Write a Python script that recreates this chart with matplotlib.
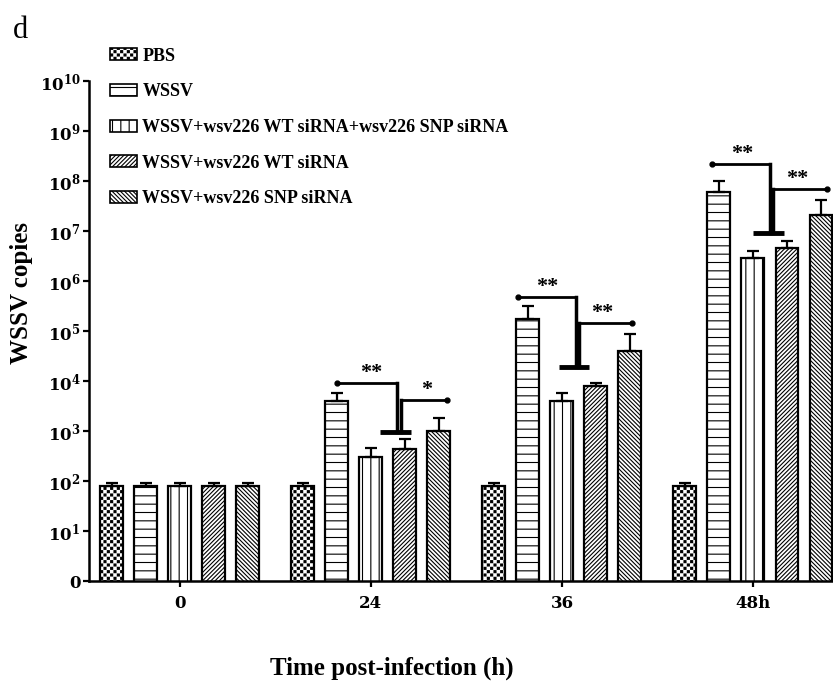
import numpy as np
import matplotlib
matplotlib.use("Agg")
import matplotlib.pyplot as plt
import matplotlib.hatch as mhatch
from matplotlib.path import Path
from matplotlib.patches import Patch


class CheckerHatch(mhatch.HatchPatternBase):
    # filled checkerboard, takes the place of the small-circle hatch 'o'
    def __init__(self, hatch, density):
        self.n = 2 * ((hatch.count('o') * density) // 2)
        self.num_vertices = (self.n * self.n // 2) * 5

    def set_vertices_and_codes(self, vertices, codes):
        s = 1.0 / self.n
        m = 0.2 * s
        k = 0
        for i in range(self.n):
            for j in range(self.n):
                if (i + j) % 2:
                    continue
                x0, y0 = i * s + m, j * s + m
                x1, y1 = x0 + s - 2 * m, y0 + s - 2 * m
                vertices[k:k + 5] = [(x0, y0), (x1, y0), (x1, y1), (x0, y1), (x0, y0)]
                codes[k:k + 5] = [Path.MOVETO, Path.LINETO, Path.LINETO,
                                  Path.LINETO, Path.CLOSEPOLY]
                k += 5


mhatch._hatch_types[mhatch._hatch_types.index(mhatch.SmallCircles)] = CheckerHatch

plt.rcParams['font.family'] = ['Liberation Serif', 'DejaVu Serif']
plt.rcParams['font.weight'] = 'bold'
plt.rcParams['mathtext.fontset'] = 'custom'
plt.rcParams['mathtext.rm'] = 'DejaVu Serif:bold'
plt.rcParams['mathtext.it'] = 'DejaVu Serif:bold'
plt.rcParams['mathtext.bf'] = 'DejaVu Serif:bold'
plt.rcParams['hatch.linewidth'] = 0.8

# data
times = ['0', '24', '36', '48h']
groups = ['PBS', 'WSSV', 'WSSV+wsv226 WT siRNA+wsv226 SNP siRNA',
          'WSSV+wsv226 WT siRNA', 'WSSV+wsv226 SNP siRNA']
pbs = [78, 78, 78, 79]
pbs_err = [13, 13, 13, 13]
wssv = [78, 4.0e3, 1.74e5, 6.0e7]
wssv_err = [13, 1.8e3, 1.4e5, 4.0e7]
both = [78, 300, 4.0e3, 2.9e6]
both_err = [13, 160, 1.8e3, 1.1e6]
wt = [78, 437, 7.9e3, 4.6e6]
wt_err = [13, 250, 1.2e3, 1.7e6]
snp = [78, 1.0e3, 4.0e4, 2.1e7]
snp_err = [13, 800, 4.7e4, 2.1e7]

means = [pbs, wssv, both, wt, snp]
errs = [pbs_err, wssv_err, both_err, wt_err, snp_err]
hatches = ['ooooo', '--', '||', '////////', '\\\\\\\\\\\\\\\\']

# significance brackets per time point: (time index, left dot, main vertical,
# T left, T right, T level, main top, second vertical, second top, right dot,
# star1 x, star1 y, star2 x, star2 y, star2 text) -- offsets / log10 levels
brackets = [
    (1, -0.178, 0.136, 0.047, 0.209, 2.98, 3.96, 0.157, 3.62, 0.398, 0.0, 3.96, 0.293, 3.62, '*'),
    (2, -0.23, 0.073, -0.016, 0.141, 4.28, 5.68, 0.089, 5.16, 0.366, -0.079, 5.68, 0.209, 5.16, '**'),
    (3, -0.215, 0.089, 0.0, 0.162, 6.96, 8.34, 0.105, 7.84, 0.387, -0.058, 8.34, 0.23, 7.84, '**'),
]

fig = plt.figure(figsize=(8.33, 6.83), dpi=100)
ax = fig.add_axes([0.1068, 0.1493, 0.8932, 0.7321])

x = np.arange(len(times))
step = 0.178
width = 0.12
for k in range(len(groups)):
    xs = x + (k - 2) * step
    ax.bar(xs, means[k], width, bottom=0, color='white', edgecolor='black',
           linewidth=1.6, hatch=hatches[k], zorder=2, label=groups[k])
    ax.errorbar(xs, means[k], yerr=[np.zeros(len(times)), errs[k]], fmt='none',
                ecolor='black', elinewidth=1.6, capsize=4, capthick=1.6, zorder=3)

for (ti, ld, mv, tl, tr, tlev, mtop, sv, stop, rd, s1x, s1y, s2x, s2y, s2t) in brackets:
    c = x[ti]
    ax.plot([c + ld, c + mv], [10 ** mtop] * 2, color='black', lw=2, zorder=4,
            solid_capstyle='butt')
    ax.plot([c + mv] * 2, [10 ** mtop, 10 ** tlev], color='black', lw=2.5, zorder=4)
    ax.plot([c + tl, c + tr], [10 ** tlev] * 2, color='black', lw=3.5, zorder=4,
            solid_capstyle='butt')
    ax.plot([c + sv] * 2, [10 ** tlev, 10 ** stop], color='black', lw=2.5, zorder=4)
    ax.plot([c + sv, c + rd], [10 ** stop] * 2, color='black', lw=2, zorder=4)
    ax.plot([c + ld, c + rd], [10 ** mtop, 10 ** stop], 'o', color='black',
            ms=3.5, zorder=5)
    ax.text(c + s1x, 10 ** s1y, '**', ha='center', va='bottom', fontsize=16)
    ax.text(c + s2x, 10 ** s2y, s2t, ha='center', va='bottom', fontsize=16)

ax.set_yscale('log')
ax.set_ylim(1, 1e10)
ax.set_xlim(-0.476, 3.419)
ax.set_yticks([10.0 ** i for i in range(11)])
ax.set_yticklabels(['0'] + [r'$10^{%d}$' % i for i in range(1, 11)])
ax.yaxis.set_minor_locator(matplotlib.ticker.NullLocator())
ax.set_xticks(x)
ax.set_xticklabels(times)
ax.tick_params(axis='y', direction='out', length=4, width=1.6, pad=2, labelsize=12,
               labelfontfamily='DejaVu Serif')
ax.tick_params(axis='x', direction='out', length=4, width=1.6, pad=6, labelsize=12,
               labelfontfamily='DejaVu Serif')
for s in ['top', 'right']:
    ax.spines[s].set_visible(False)
for s in ['left', 'bottom']:
    ax.spines[s].set_linewidth(1.8)

ax.set_ylabel('WSSV copies', fontsize=18, fontweight='bold')
ax.yaxis.set_label_coords(-0.075, 0.576)
fig.text(0.47, 0.022, 'Time post-infection (h)', ha='center', va='center',
         fontsize=18)
fig.text(0.015, 0.956, 'd', fontsize=22, fontweight='normal', va='center')

handles = [Patch(facecolor='white', edgecolor='black', linewidth=1.2, hatch=h)
           for h in hatches]
fig.legend(handles, groups, loc='upper left', bbox_to_anchor=(0.132, 0.93),
           frameon=False, fontsize=13, handlelength=1.5, handleheight=0.65,
           handletextpad=0.3, labelspacing=1.03, borderpad=0, borderaxespad=0)

fig.savefig('out.png', dpi=100)
